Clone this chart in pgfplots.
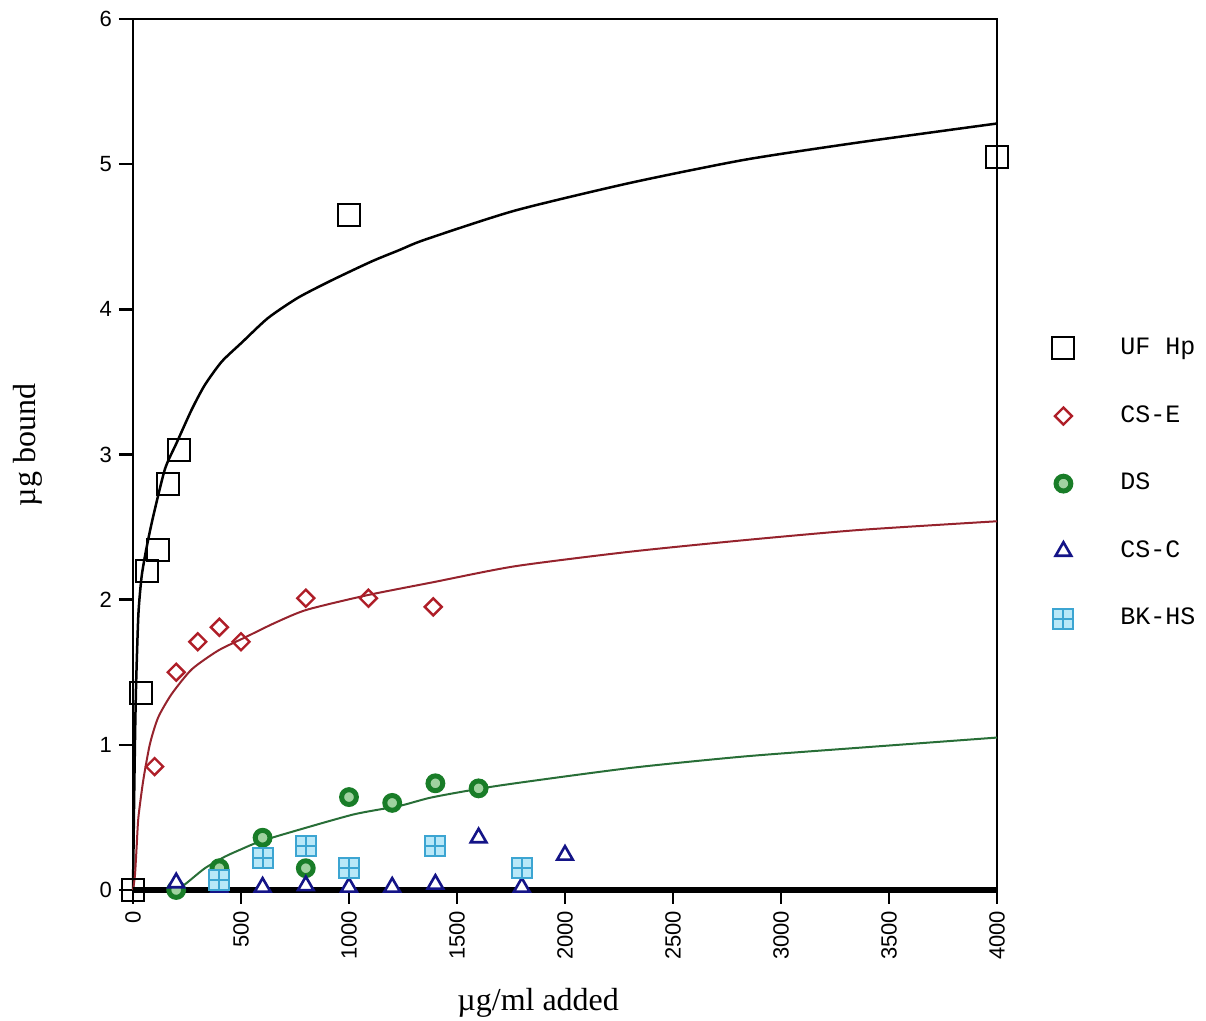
\documentclass[border=0pt]{standalone}
\usepackage{fontspec}
\setmainfont{Liberation Serif}
\setsansfont{Liberation Sans}
\setmonofont{Liberation Mono}
\usepackage{pgfplots}
\pgfplotsset{compat=1.18}
\usetikzlibrary{plotmarks}

\definecolor{cse}{RGB}{175,30,40}
\definecolor{csecurve}{RGB}{150,35,45}
\definecolor{ds}{RGB}{25,125,40}
\definecolor{dsfill}{RGB}{160,210,160}
\definecolor{dscurve}{RGB}{40,110,55}
\definecolor{csc}{RGB}{20,20,135}
\definecolor{bkedge}{RGB}{60,165,210}
\definecolor{bkfill}{RGB}{185,232,248}

% square with a cross inside (BK-HS)
\pgfdeclareplotmark{boxplus}{%
  \pgfpathrectangle{\pgfqpoint{-\pgfplotmarksize}{-\pgfplotmarksize}}{\pgfqpoint{2\pgfplotmarksize}{2\pgfplotmarksize}}%
  \pgfusepathqfillstroke
  \pgfpathmoveto{\pgfqpoint{-\pgfplotmarksize}{0pt}}\pgfpathlineto{\pgfqpoint{\pgfplotmarksize}{0pt}}%
  \pgfpathmoveto{\pgfqpoint{0pt}{-\pgfplotmarksize}}\pgfpathlineto{\pgfqpoint{0pt}{\pgfplotmarksize}}%
  \pgfusepathqstroke}

\begin{document}
\begin{tikzpicture}
\useasboundingbox (-66.5pt,-65.5pt) rectangle (536.5pt,445pt);
\begin{axis}[
  scale only axis, width=432pt, height=435.5pt,
  xmin=0, xmax=4000, ymin=0, ymax=6,
  xtick={0,500,...,4000}, ytick={0,1,...,6},
  xtick pos=bottom, ytick pos=left,
  tick align=outside, major tick length=7pt,
  tick style={black, line width=1.2pt},
  axis line style={line width=1.3pt},
  x tick label style={rotate=90, anchor=east},
  ticklabel style={font=\sffamily\fontsize{11}{12}\selectfont},
  /pgf/number format/assume math mode=true,
  /pgf/number format/1000 sep={},
  scaled x ticks=false,
  xlabel={µg/ml added}, ylabel={µg bound},
  label style={font=\rmfamily\fontsize{16}{18}\selectfont},
  xlabel style={at={(axis description cs:0.469,-0.1297)}, anchor=center},
  ylabel style={at={(axis description cs:-0.1215,0.511)}, anchor=center},
  legend style={at={(axis description cs:1.0637,0.636)}, anchor=north west,
    draw=none, fill=none, inner sep=0pt,
    font=\ttfamily\fontsize{12.5}{14}\selectfont,
    row sep=21.8pt, column sep=23pt,
    nodes={inner sep=0pt, text height=9pt, text depth=3pt}},
  legend cell align=left,
  clip=false,
]
% fitted curves
\addplot[black, line width=1.25pt, smooth, tension=0.4, forget plot] coordinates {
 (0,0) (5,0.6) (10,1.1) (15,1.45) (25,1.9) (40,2.16) (63,2.36) (93,2.57)
 (148,2.9) (202,3.08) (272,3.31) (333,3.48) (411,3.64) (503,3.77) (625,3.94)
 (764,4.08) (920,4.20) (1105,4.33) (1236,4.41) (1352,4.48) (1768,4.68)
 (2299,4.87) (2831,5.03) (3362,5.15) (4000,5.28)};
\addplot[csecurve, line width=1pt, smooth, tension=0.4, forget plot] coordinates {
 (0,0) (9,0.1) (17,0.3) (25,0.5) (48,0.76) (79,1.01) (117,1.19) (179,1.35)
 (272,1.52) (395,1.65) (519,1.74) (657,1.84) (804,1.93) (1082,2.03)
 (1389,2.12) (1768,2.23) (2299,2.33) (2831,2.41) (3362,2.48) (4000,2.54)};
\addplot[dscurve, line width=1pt, smooth, tension=0.4, forget plot] coordinates {
 (205,0) (250,0.05) (333,0.15) (426,0.23) (500,0.28) (580,0.33) (711,0.39)
 (1020,0.52) (1236,0.58) (1390,0.64) (1699,0.72) (2299,0.84) (2831,0.92)
 (3362,0.98) (4000,1.05)};
% zero line
\addplot[black, line width=3pt, forget plot] coordinates {(0,0) (4000,0)};
% data
\addplot[only marks, mark=square, mark size=5.5pt, black, line width=1pt] coordinates {
 (0,0) (38,1.36) (65,2.2) (116,2.34) (160,2.8) (215,3.03) (1000,4.65) (4000,5.05)};
\addlegendentry{UF Hp}
\addplot[only marks, mark=square, mark size=3pt, mark options={rotate=45}, cse, line width=1.2pt] coordinates {
 (100,0.85) (200,1.5) (300,1.71) (400,1.81) (500,1.71) (800,2.01) (1090,2.01) (1390,1.95)};
\addlegendentry{CS-E}
\addplot[only marks, mark=*, mark size=3.7pt, ds, fill=dsfill, line width=2.5pt] coordinates {
 (200,0) (400,0.15) (600,0.36) (800,0.15) (1000,0.64) (1200,0.6) (1400,0.735) (1600,0.7)};
\addlegendentry{DS}
\addplot[only marks, mark=triangle*, mark size=4.5pt, csc, fill=white, line width=1.3pt] coordinates {
 (200,0.05) (400,0.02) (600,0.02) (800,0.03) (1000,0.02) (1200,0.02) (1400,0.04)
 (1600,0.36) (1800,0.02) (2000,0.24)};
\addlegendentry{CS-C}
\addplot[only marks, mark=boxplus, mark size=5pt, bkedge, fill=bkfill, line width=1pt] coordinates {
 (400,0.07) (600,0.22) (800,0.30) (1000,0.15) (1400,0.30) (1800,0.15)};
\addlegendentry{BK-HS}
\end{axis}
\end{tikzpicture}
\end{document}
